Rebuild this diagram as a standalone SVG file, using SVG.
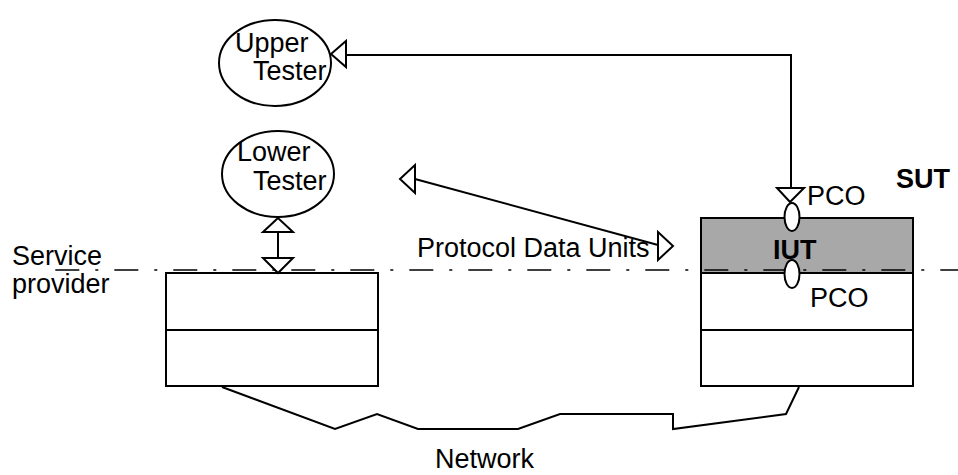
<svg xmlns="http://www.w3.org/2000/svg" width="958" height="475" viewBox="0 0 958 475">
<style>
  text { font-family: "Liberation Sans", Arial, sans-serif; font-size: 27px; fill: #000; }
  .b { font-weight: bold; }
  .s { fill: none; stroke: #000; stroke-width: 2; }
  .w { fill: #fff; stroke: #000; stroke-width: 2; }
  .tri { fill: #fff; stroke: #000; stroke-width: 2; stroke-linejoin: miter; }
</style>
<rect width="958" height="475" fill="#fff"/>
<g id="upper-tester">
  <ellipse class="w" cx="275" cy="63" rx="56" ry="43"/>
  <text x="235" y="52">Upper</text>
  <text x="253" y="80">Tester</text>
</g>
<g id="lower-tester">
  <ellipse class="w" cx="278" cy="174" rx="56" ry="43"/>
  <text x="237" y="161">Lower</text>
  <text x="253" y="190">Tester</text>
</g>
<g id="service-provider-box">
  <rect class="s" x="166" y="273" width="212" height="113"/>
  <line class="s" x1="166" y1="330" x2="378" y2="330"/>
</g>
<g id="sut-box">
  <rect x="701" y="218" width="212" height="55" fill="#a8a8a8"/>
  <rect class="s" x="701" y="218" width="212" height="168"/>
  <line class="s" x1="701" y1="273" x2="913" y2="273"/>
  <line class="s" x1="701" y1="330" x2="913" y2="330"/>
  <text class="b" x="773" y="259">IUT</text>
</g>
<g id="service-line">
  <line x1="52" y1="270" x2="958" y2="270" stroke="#000" stroke-width="1.5" stroke-dasharray="24 16 3 16" stroke-dashoffset="55.7"/>
</g>
<g id="labels">
  <text x="12" y="265">Service</text>
  <text x="12" y="293">provider</text>
  <text class="b" x="896" y="188">SUT</text>
  <text x="417" y="257">Protocol Data Units</text>
  <text x="435" y="468">Network</text>
</g>
<g id="connectors">
  <polyline class="s" points="346,55 791,55 791,188"/>
  <polygon class="tri" points="331,54 346,41 346,67"/>
  <polygon class="tri" points="777,188 804,188 790,202"/>
  <line class="s" x1="415" y1="179" x2="658" y2="245"/>
  <polygon class="tri" points="400,179 415,165 415,193"/>
  <polygon class="tri" points="673,246 658,232 658,260"/>
  <line class="s" x1="278" y1="232" x2="278" y2="258"/>
  <polygon class="tri" points="278,218 263,232 293,232"/>
  <polygon class="tri" points="263,258 293,258 278,273"/>
  <polyline class="s" points="222,387 335,429 377,414 418,429 518,429 560,414 673,414 673,429 786,414 799,387"/>
</g>
<g id="pco-upper">
  <ellipse class="w" cx="792" cy="217" rx="7.5" ry="14"/>
  <text x="807" y="205">PCO</text>
</g>
<g id="pco-lower">
  <ellipse class="w" cx="792" cy="274" rx="7.5" ry="14"/>
  <text x="810" y="307">PCO</text>
</g>
</svg>
